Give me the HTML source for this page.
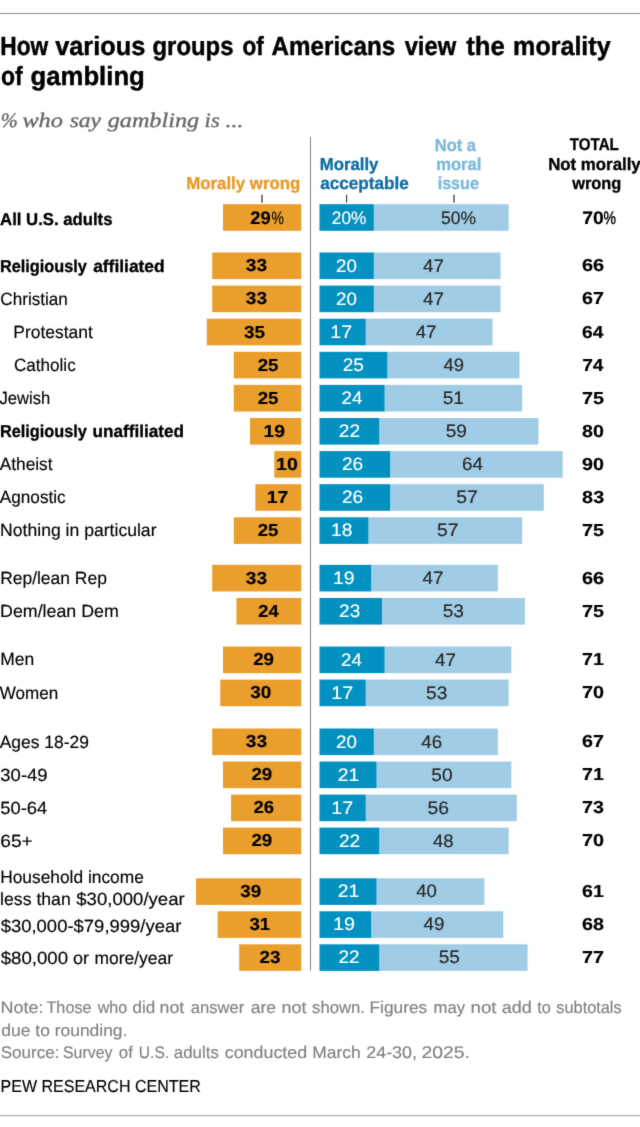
<!DOCTYPE html>
<html lang="en"><head><meta charset="utf-8"><title>How various groups of Americans view the morality of gambling</title>
<style>
html,body{margin:0;padding:0;background:#fff}
body{width:640px;height:1127px;position:relative;overflow:hidden;font-family:'Liberation Sans',sans-serif;text-rendering:geometricPrecision}
.soft{filter:url(#soft)}
svg{position:absolute;left:0;top:0}
.t{position:absolute;left:0;white-space:nowrap;line-height:0;transform-origin:0 0;margin:0;font-weight:400}
</style></head><body class="soft">
<svg width="0" height="0" style="position:absolute" aria-hidden="true"><filter id="soft" x="0" y="0" width="100%" height="100%" color-interpolation-filters="sRGB"><feConvolveMatrix order="3" kernelMatrix="0.01103 0.08285 0.01103 0.08285 0.62252 0.08285 0.01103 0.08285 0.01103" divisor="1" edgeMode="duplicate" preserveAlpha="false"/></filter></svg>
<svg width="640" height="1127" viewBox="0 0 640 1127">
<rect x="0" y="13" width="640" height="1" fill="#8e8e8e"/>
<rect x="0" y="1114.87" width="640" height="1.45" fill="#b3b3b3"/>
<rect x="310" y="137" width="1" height="833.6" fill="#848484"/>
<rect x="261" y="194.8" width="2" height="7.8" fill="#7e7e7e"/>
<rect x="346.15" y="194.8" width="1" height="7.8" fill="#222"/>
<rect x="453" y="194.8" width="2" height="7.8" fill="#7e7e7e"/>
<rect x="223.00" y="204.20" width="78.30" height="26.6" fill="#EA9E2C"/>
<rect x="373.85" y="204.20" width="134.80" height="26.6" fill="#A0CCE6"/>
<rect x="319.50" y="204.20" width="54.35" height="26.6" fill="#0291C0"/>
<rect x="212.20" y="252.50" width="89.10" height="26.6" fill="#EA9E2C"/>
<rect x="373.85" y="252.50" width="126.70" height="26.6" fill="#A0CCE6"/>
<rect x="319.50" y="252.50" width="54.35" height="26.6" fill="#0291C0"/>
<rect x="212.20" y="285.60" width="89.10" height="26.6" fill="#EA9E2C"/>
<rect x="373.85" y="285.60" width="126.70" height="26.6" fill="#A0CCE6"/>
<rect x="319.50" y="285.60" width="54.35" height="26.6" fill="#0291C0"/>
<rect x="206.80" y="318.70" width="94.50" height="26.6" fill="#EA9E2C"/>
<rect x="365.75" y="318.70" width="126.70" height="26.6" fill="#A0CCE6"/>
<rect x="319.50" y="318.70" width="46.25" height="26.6" fill="#0291C0"/>
<rect x="233.80" y="351.80" width="67.50" height="26.6" fill="#EA9E2C"/>
<rect x="387.35" y="351.80" width="132.10" height="26.6" fill="#A0CCE6"/>
<rect x="319.50" y="351.80" width="67.85" height="26.6" fill="#0291C0"/>
<rect x="233.80" y="384.90" width="67.50" height="26.6" fill="#EA9E2C"/>
<rect x="384.65" y="384.90" width="137.50" height="26.6" fill="#A0CCE6"/>
<rect x="319.50" y="384.90" width="65.15" height="26.6" fill="#0291C0"/>
<rect x="250.00" y="418.00" width="51.30" height="26.6" fill="#EA9E2C"/>
<rect x="379.25" y="418.00" width="159.10" height="26.6" fill="#A0CCE6"/>
<rect x="319.50" y="418.00" width="59.75" height="26.6" fill="#0291C0"/>
<rect x="274.30" y="451.10" width="27.00" height="26.6" fill="#EA9E2C"/>
<rect x="390.05" y="451.10" width="172.60" height="26.6" fill="#A0CCE6"/>
<rect x="319.50" y="451.10" width="70.55" height="26.6" fill="#0291C0"/>
<rect x="255.40" y="484.20" width="45.90" height="26.6" fill="#EA9E2C"/>
<rect x="390.05" y="484.20" width="153.70" height="26.6" fill="#A0CCE6"/>
<rect x="319.50" y="484.20" width="70.55" height="26.6" fill="#0291C0"/>
<rect x="233.80" y="517.30" width="67.50" height="26.6" fill="#EA9E2C"/>
<rect x="368.45" y="517.30" width="153.70" height="26.6" fill="#A0CCE6"/>
<rect x="319.50" y="517.30" width="48.95" height="26.6" fill="#0291C0"/>
<rect x="212.20" y="564.85" width="89.10" height="26.6" fill="#EA9E2C"/>
<rect x="371.15" y="564.85" width="126.70" height="26.6" fill="#A0CCE6"/>
<rect x="319.50" y="564.85" width="51.65" height="26.6" fill="#0291C0"/>
<rect x="236.50" y="597.95" width="64.80" height="26.6" fill="#EA9E2C"/>
<rect x="381.95" y="597.95" width="142.90" height="26.6" fill="#A0CCE6"/>
<rect x="319.50" y="597.95" width="62.45" height="26.6" fill="#0291C0"/>
<rect x="223.00" y="646.55" width="78.30" height="26.6" fill="#EA9E2C"/>
<rect x="384.65" y="646.55" width="126.70" height="26.6" fill="#A0CCE6"/>
<rect x="319.50" y="646.55" width="65.15" height="26.6" fill="#0291C0"/>
<rect x="220.30" y="679.60" width="81.00" height="26.6" fill="#EA9E2C"/>
<rect x="365.75" y="679.60" width="142.90" height="26.6" fill="#A0CCE6"/>
<rect x="319.50" y="679.60" width="46.25" height="26.6" fill="#0291C0"/>
<rect x="212.20" y="728.50" width="89.10" height="26.6" fill="#EA9E2C"/>
<rect x="373.85" y="728.50" width="124.00" height="26.6" fill="#A0CCE6"/>
<rect x="319.50" y="728.50" width="54.35" height="26.6" fill="#0291C0"/>
<rect x="223.00" y="761.55" width="78.30" height="26.6" fill="#EA9E2C"/>
<rect x="376.55" y="761.55" width="134.80" height="26.6" fill="#A0CCE6"/>
<rect x="319.50" y="761.55" width="57.05" height="26.6" fill="#0291C0"/>
<rect x="231.10" y="794.60" width="70.20" height="26.6" fill="#EA9E2C"/>
<rect x="365.75" y="794.60" width="151.00" height="26.6" fill="#A0CCE6"/>
<rect x="319.50" y="794.60" width="46.25" height="26.6" fill="#0291C0"/>
<rect x="223.00" y="827.60" width="78.30" height="26.6" fill="#EA9E2C"/>
<rect x="379.25" y="827.60" width="129.40" height="26.6" fill="#A0CCE6"/>
<rect x="319.50" y="827.60" width="59.75" height="26.6" fill="#0291C0"/>
<rect x="196.00" y="878.30" width="105.30" height="26.6" fill="#EA9E2C"/>
<rect x="376.55" y="878.30" width="107.80" height="26.6" fill="#A0CCE6"/>
<rect x="319.50" y="878.30" width="57.05" height="26.6" fill="#0291C0"/>
<rect x="217.60" y="911.30" width="83.70" height="26.6" fill="#EA9E2C"/>
<rect x="371.15" y="911.30" width="132.10" height="26.6" fill="#A0CCE6"/>
<rect x="319.50" y="911.30" width="51.65" height="26.6" fill="#0291C0"/>
<rect x="239.20" y="944.30" width="62.10" height="26.6" fill="#EA9E2C"/>
<rect x="379.25" y="944.30" width="148.30" height="26.6" fill="#A0CCE6"/>
<rect x="319.50" y="944.30" width="59.75" height="26.6" fill="#0291C0"/>
</svg>
<span class="t" style="top:45.50px;font-size:26.3px;transform:translateX(0.36px) scaleX(0.8631);font-weight:700;-webkit-text-stroke:0.45px currentColor">How</span>
<span class="t" style="top:45.50px;font-size:26.3px;transform:translateX(55.16px) scaleX(0.9643);font-weight:700;-webkit-text-stroke:0.45px currentColor">various</span>
<span class="t" style="top:45.50px;font-size:26.3px;transform:translateX(152.50px) scaleX(0.9080);font-weight:700;-webkit-text-stroke:0.45px currentColor">groups</span>
<span class="t" style="top:45.50px;font-size:26.3px;transform:translateX(242.54px) scaleX(0.8589);font-weight:700;-webkit-text-stroke:0.45px currentColor">of</span>
<span class="t" style="top:45.50px;font-size:26.3px;transform:translateX(271.60px) scaleX(0.9192);font-weight:700;-webkit-text-stroke:0.45px currentColor">Americans</span>
<span class="t" style="top:45.50px;font-size:26.3px;transform:translateX(404.64px) scaleX(0.9045);font-weight:700;-webkit-text-stroke:0.45px currentColor">view</span>
<span class="t" style="top:45.50px;font-size:26.3px;transform:translateX(466.22px) scaleX(0.9781);font-weight:700;-webkit-text-stroke:0.45px currentColor">the</span>
<span class="t" style="top:45.50px;font-size:26.3px;transform:translateX(513.12px) scaleX(0.9526);font-weight:700;-webkit-text-stroke:0.45px currentColor">morality</span>
<span class="t" style="top:75.50px;font-size:26.3px;transform:translateX(0.97px) scaleX(0.8738);font-weight:700;-webkit-text-stroke:0.45px currentColor">of</span>
<span class="t" style="top:75.50px;font-size:26.3px;transform:translateX(30.58px) scaleX(0.9773);font-weight:700;-webkit-text-stroke:0.45px currentColor">gambling</span>
<span class="t" style="top:120.50px;font-size:20.5px;transform:translateX(0.81px) scaleX(0.9943);font-style:italic;font-family:'Liberation Serif', serif;color:#686868;-webkit-text-stroke:0.35px currentColor">%</span>
<span class="t" style="top:120.50px;font-size:20.5px;transform:translateX(22.39px) scaleX(1.1847);font-style:italic;font-family:'Liberation Serif', serif;color:#686868;-webkit-text-stroke:0.35px currentColor">who</span>
<span class="t" style="top:120.50px;font-size:20.5px;transform:translateX(69.66px) scaleX(1.1486);font-style:italic;font-family:'Liberation Serif', serif;color:#686868;-webkit-text-stroke:0.35px currentColor">say</span>
<span class="t" style="top:120.50px;font-size:20.5px;transform:translateX(107.70px) scaleX(1.1798);font-style:italic;font-family:'Liberation Serif', serif;color:#686868;-webkit-text-stroke:0.35px currentColor">gambling</span>
<span class="t" style="top:120.50px;font-size:20.5px;transform:translateX(204.62px) scaleX(1.1057);font-style:italic;font-family:'Liberation Serif', serif;color:#686868;-webkit-text-stroke:0.35px currentColor">is</span>
<span class="t" style="top:120.50px;font-size:20.5px;transform:translateX(225.52px) scaleX(1.1566);font-style:italic;font-family:'Liberation Serif', serif;color:#686868;-webkit-text-stroke:0.35px currentColor">...</span>
<span class="t" style="top:182.50px;font-size:17.3px;transform:translateX(186.18px) scaleX(0.9745);font-weight:700;color:#E99B27;-webkit-text-stroke:0.32px currentColor">Morally wrong</span>
<span class="t" style="top:163.50px;font-size:17.3px;transform:translateX(319.71px) scaleX(0.9701);font-weight:700;color:#0F6EA5;-webkit-text-stroke:0.32px currentColor">Morally</span>
<span class="t" style="top:182.50px;font-size:17.3px;transform:translateX(320.17px) scaleX(0.9917);font-weight:700;color:#0F6EA5;-webkit-text-stroke:0.32px currentColor">acceptable</span>
<span class="t" style="top:144.50px;font-size:17.3px;transform:translateX(434.77px) scaleX(0.9545);font-weight:700;color:#7DB9DC;-webkit-text-stroke:0.32px currentColor">Not a</span>
<span class="t" style="top:163.50px;font-size:17.3px;transform:translateX(436.16px) scaleX(0.9614);font-weight:700;color:#7DB9DC;-webkit-text-stroke:0.32px currentColor">moral</span>
<span class="t" style="top:182.50px;font-size:17.3px;transform:translateX(437.68px) scaleX(0.9315);font-weight:700;color:#7DB9DC;-webkit-text-stroke:0.32px currentColor">issue</span>
<span class="t" style="top:145.00px;font-size:17px;transform:translateX(569.74px) scaleX(0.8915);font-weight:700;-webkit-text-stroke:0.32px currentColor">TOTAL</span>
<span class="t" style="top:163.50px;font-size:17.3px;transform:translateX(548.19px) scaleX(0.9729);font-weight:700;-webkit-text-stroke:0.32px currentColor">Not morally</span>
<span class="t" style="top:182.50px;font-size:17.3px;transform:translateX(572.17px) scaleX(0.9468);font-weight:700;-webkit-text-stroke:0.32px currentColor">wrong</span>
<span class="t" style="top:218.50px;font-size:17.2px;transform:translateX(0.11px) scaleX(0.9724);font-weight:700;-webkit-text-stroke:0.32px currentColor">All U.S. adults</span>
<span class="t" style="top:217.50px;font-size:18px;transform:translateX(250.18px) scaleX(1.0233);font-weight:700;-webkit-text-stroke:0.15px currentColor">29</span>
<span class="t" style="top:217.50px;font-size:18px;transform:translateX(271.51px) scaleX(0.7722);-webkit-text-stroke:0.14px currentColor">%</span>
<span class="t" style="top:217.50px;font-size:18px;transform:translateX(331.77px) scaleX(0.9601);color:#fff;-webkit-text-stroke:0.14px currentColor">20%</span>
<span class="t" style="top:217.50px;font-size:18px;transform:translateX(441.04px) scaleX(0.9674);color:#262626;-webkit-text-stroke:0.14px currentColor">50%</span>
<span class="t" style="top:217.50px;font-size:18px;transform:translateX(582.30px) scaleX(1.0777);font-weight:700;-webkit-text-stroke:0.15px currentColor">70</span>
<span class="t" style="top:217.50px;font-size:18px;transform:translateX(603.58px) scaleX(0.7750);-webkit-text-stroke:0.45px currentColor">%</span>
<span class="t" style="top:265.50px;font-size:17.2px;transform:translateX(-0.11px) scaleX(0.9477);font-weight:700;-webkit-text-stroke:0.32px currentColor">Religiously</span>
<span class="t" style="top:265.50px;font-size:17.2px;transform:translateX(93.13px) scaleX(1.0123);font-weight:700;-webkit-text-stroke:0.32px currentColor">affiliated</span>
<span class="t" style="top:264.50px;font-size:17.3px;transform:translateX(245.83px) scaleX(1.1058);font-weight:700;-webkit-text-stroke:0.15px currentColor">33</span>
<span class="t" style="top:265.50px;font-size:18px;transform:translateX(335.94px) scaleX(1.0434);color:#fff;-webkit-text-stroke:0.14px currentColor">20</span>
<span class="t" style="top:265.50px;font-size:18px;transform:translateX(423.03px) scaleX(1.0400);color:#262626;-webkit-text-stroke:0.14px currentColor">47</span>
<span class="t" style="top:264.50px;font-size:17.3px;transform:translateX(581.97px) scaleX(1.1565);font-weight:700;-webkit-text-stroke:0.15px currentColor">66</span>
<span class="t" style="top:298.50px;font-size:17.7px;transform:translateX(0.31px) scaleX(0.9678);-webkit-text-stroke:0.14px currentColor">Christian</span>
<span class="t" style="top:297.50px;font-size:17.3px;transform:translateX(245.83px) scaleX(1.1058);font-weight:700;-webkit-text-stroke:0.15px currentColor">33</span>
<span class="t" style="top:298.50px;font-size:18px;transform:translateX(335.94px) scaleX(1.0434);color:#fff;-webkit-text-stroke:0.14px currentColor">20</span>
<span class="t" style="top:298.50px;font-size:18px;transform:translateX(423.03px) scaleX(1.0400);color:#262626;-webkit-text-stroke:0.14px currentColor">47</span>
<span class="t" style="top:297.50px;font-size:17.3px;transform:translateX(581.97px) scaleX(1.1392);font-weight:700;-webkit-text-stroke:0.15px currentColor">67</span>
<span class="t" style="top:331.50px;font-size:17.7px;transform:translateX(13.31px) scaleX(0.9869);-webkit-text-stroke:0.14px currentColor">Protestant</span>
<span class="t" style="top:331.50px;font-size:17.3px;transform:translateX(243.99px) scaleX(1.0956);font-weight:700;-webkit-text-stroke:0.15px currentColor">35</span>
<span class="t" style="top:331.50px;font-size:18px;transform:translateX(330.32px) scaleX(1.0912);color:#fff;-webkit-text-stroke:0.14px currentColor">17</span>
<span class="t" style="top:331.50px;font-size:18px;transform:translateX(415.69px) scaleX(1.0400);color:#262626;-webkit-text-stroke:0.14px currentColor">47</span>
<span class="t" style="top:331.50px;font-size:17.3px;transform:translateX(582.09px) scaleX(1.1121);font-weight:700;-webkit-text-stroke:0.15px currentColor">64</span>
<span class="t" style="top:364.50px;font-size:17.7px;transform:translateX(14.00px) scaleX(0.9656);-webkit-text-stroke:0.14px currentColor">Catholic</span>
<span class="t" style="top:364.50px;font-size:17.3px;transform:translateX(257.66px) scaleX(1.0841);font-weight:700;-webkit-text-stroke:0.15px currentColor">25</span>
<span class="t" style="top:364.50px;font-size:18px;transform:translateX(342.76px) scaleX(1.0590);color:#fff;-webkit-text-stroke:0.14px currentColor">25</span>
<span class="t" style="top:364.50px;font-size:18px;transform:translateX(443.38px) scaleX(1.0249);color:#262626;-webkit-text-stroke:0.14px currentColor">49</span>
<span class="t" style="top:364.50px;font-size:17.3px;transform:translateX(582.15px) scaleX(1.1098);font-weight:700;-webkit-text-stroke:0.15px currentColor">74</span>
<span class="t" style="top:397.50px;font-size:17.7px;transform:translateX(-0.49px) scaleX(0.9371);-webkit-text-stroke:0.14px currentColor">Jewish</span>
<span class="t" style="top:397.50px;font-size:17.3px;transform:translateX(257.66px) scaleX(1.0841);font-weight:700;-webkit-text-stroke:0.15px currentColor">25</span>
<span class="t" style="top:397.50px;font-size:18px;transform:translateX(341.56px) scaleX(1.0373);color:#fff;-webkit-text-stroke:0.14px currentColor">24</span>
<span class="t" style="top:397.50px;font-size:18px;transform:translateX(442.67px) scaleX(1.0622);color:#262626;-webkit-text-stroke:0.14px currentColor">51</span>
<span class="t" style="top:397.50px;font-size:17.3px;transform:translateX(582.06px) scaleX(1.1435);font-weight:700;-webkit-text-stroke:0.15px currentColor">75</span>
<span class="t" style="top:430.50px;font-size:17.2px;transform:translateX(-0.11px) scaleX(0.9477);font-weight:700;-webkit-text-stroke:0.32px currentColor">Religiously</span>
<span class="t" style="top:430.50px;font-size:17.2px;transform:translateX(92.61px) scaleX(0.9973);font-weight:700;-webkit-text-stroke:0.32px currentColor">unaffiliated</span>
<span class="t" style="top:430.50px;font-size:17.3px;transform:translateX(263.51px) scaleX(1.1217);font-weight:700;-webkit-text-stroke:0.15px currentColor">19</span>
<span class="t" style="top:430.50px;font-size:18px;transform:translateX(338.85px) scaleX(1.0590);color:#fff;-webkit-text-stroke:0.14px currentColor">22</span>
<span class="t" style="top:430.50px;font-size:18px;transform:translateX(445.67px) scaleX(1.0630);color:#262626;-webkit-text-stroke:0.14px currentColor">59</span>
<span class="t" style="top:430.50px;font-size:17.3px;transform:translateX(582.06px) scaleX(1.1381);font-weight:700;-webkit-text-stroke:0.15px currentColor">80</span>
<span class="t" style="top:463.50px;font-size:17.7px;transform:translateX(-0.31px) scaleX(0.9776);-webkit-text-stroke:0.14px currentColor">Atheist</span>
<span class="t" style="top:463.50px;font-size:17.3px;transform:translateX(276.09px) scaleX(1.1291);font-weight:700;-webkit-text-stroke:0.15px currentColor">10</span>
<span class="t" style="top:463.50px;font-size:18px;transform:translateX(341.90px) scaleX(1.0620);color:#fff;-webkit-text-stroke:0.14px currentColor">26</span>
<span class="t" style="top:463.50px;font-size:18px;transform:translateX(462.00px) scaleX(1.0451);color:#262626;-webkit-text-stroke:0.14px currentColor">64</span>
<span class="t" style="top:463.50px;font-size:17.3px;transform:translateX(582.02px) scaleX(1.1423);font-weight:700;-webkit-text-stroke:0.15px currentColor">90</span>
<span class="t" style="top:496.50px;font-size:17.7px;transform:translateX(-0.30px) scaleX(0.9729);-webkit-text-stroke:0.14px currentColor">Agnostic</span>
<span class="t" style="top:496.50px;font-size:17.3px;transform:translateX(266.80px) scaleX(1.1247);font-weight:700;-webkit-text-stroke:0.15px currentColor">17</span>
<span class="t" style="top:496.50px;font-size:18px;transform:translateX(341.90px) scaleX(1.0620);color:#fff;-webkit-text-stroke:0.14px currentColor">26</span>
<span class="t" style="top:496.50px;font-size:18px;transform:translateX(456.32px) scaleX(1.0702);color:#262626;-webkit-text-stroke:0.14px currentColor">57</span>
<span class="t" style="top:496.50px;font-size:17.3px;transform:translateX(582.12px) scaleX(1.1456);font-weight:700;-webkit-text-stroke:0.15px currentColor">83</span>
<span class="t" style="top:529.50px;font-size:17.7px;transform:translateX(0.11px) scaleX(0.9941);-webkit-text-stroke:0.14px currentColor">Nothing in particular</span>
<span class="t" style="top:529.50px;font-size:17.3px;transform:translateX(257.66px) scaleX(1.0841);font-weight:700;-webkit-text-stroke:0.15px currentColor">25</span>
<span class="t" style="top:529.50px;font-size:18px;transform:translateX(330.96px) scaleX(1.0726);color:#fff;-webkit-text-stroke:0.14px currentColor">18</span>
<span class="t" style="top:529.50px;font-size:18px;transform:translateX(437.12px) scaleX(1.0685);color:#262626;-webkit-text-stroke:0.14px currentColor">57</span>
<span class="t" style="top:529.50px;font-size:17.3px;transform:translateX(582.06px) scaleX(1.1435);font-weight:700;-webkit-text-stroke:0.15px currentColor">75</span>
<span class="t" style="top:577.50px;font-size:17.7px;transform:translateX(0.14px) scaleX(0.9864);-webkit-text-stroke:0.14px currentColor">Rep/lean Rep</span>
<span class="t" style="top:577.50px;font-size:17.3px;transform:translateX(245.83px) scaleX(1.1058);font-weight:700;-webkit-text-stroke:0.15px currentColor">33</span>
<span class="t" style="top:577.50px;font-size:18px;transform:translateX(332.94px) scaleX(1.0900);color:#fff;-webkit-text-stroke:0.14px currentColor">19</span>
<span class="t" style="top:577.50px;font-size:18px;transform:translateX(422.42px) scaleX(1.0464);color:#262626;-webkit-text-stroke:0.14px currentColor">47</span>
<span class="t" style="top:577.50px;font-size:17.3px;transform:translateX(581.97px) scaleX(1.1565);font-weight:700;-webkit-text-stroke:0.15px currentColor">66</span>
<span class="t" style="top:610.50px;font-size:17.7px;transform:translateX(0.05px) scaleX(1.0064);-webkit-text-stroke:0.14px currentColor">Dem/lean Dem</span>
<span class="t" style="top:610.50px;font-size:17.3px;transform:translateX(258.36px) scaleX(1.0616);font-weight:700;-webkit-text-stroke:0.15px currentColor">24</span>
<span class="t" style="top:610.50px;font-size:18px;transform:translateX(339.04px) scaleX(1.0582);color:#fff;-webkit-text-stroke:0.14px currentColor">23</span>
<span class="t" style="top:610.50px;font-size:18px;transform:translateX(442.65px) scaleX(1.0605);color:#262626;-webkit-text-stroke:0.14px currentColor">53</span>
<span class="t" style="top:610.50px;font-size:17.3px;transform:translateX(582.06px) scaleX(1.1435);font-weight:700;-webkit-text-stroke:0.15px currentColor">75</span>
<span class="t" style="top:658.50px;font-size:17.7px;transform:translateX(0.13px) scaleX(0.9877);-webkit-text-stroke:0.14px currentColor">Men</span>
<span class="t" style="top:658.50px;font-size:17.3px;transform:translateX(253.14px) scaleX(1.0843);font-weight:700;-webkit-text-stroke:0.15px currentColor">29</span>
<span class="t" style="top:659.50px;font-size:18px;transform:translateX(340.98px) scaleX(1.0417);color:#fff;-webkit-text-stroke:0.14px currentColor">24</span>
<span class="t" style="top:659.50px;font-size:18px;transform:translateX(435.03px) scaleX(1.0400);color:#262626;-webkit-text-stroke:0.14px currentColor">47</span>
<span class="t" style="top:658.50px;font-size:17.3px;transform:translateX(582.09px) scaleX(1.1314);font-weight:700;-webkit-text-stroke:0.15px currentColor">71</span>
<span class="t" style="top:692.50px;font-size:17.7px;transform:translateX(-0.30px) scaleX(0.9653);-webkit-text-stroke:0.14px currentColor">Women</span>
<span class="t" style="top:691.50px;font-size:17.3px;transform:translateX(250.23px) scaleX(1.0940);font-weight:700;-webkit-text-stroke:0.15px currentColor">30</span>
<span class="t" style="top:692.50px;font-size:18px;transform:translateX(331.32px) scaleX(1.0912);color:#fff;-webkit-text-stroke:0.14px currentColor">17</span>
<span class="t" style="top:692.50px;font-size:18px;transform:translateX(425.99px) scaleX(1.0631);color:#262626;-webkit-text-stroke:0.14px currentColor">53</span>
<span class="t" style="top:691.50px;font-size:17.3px;transform:translateX(582.03px) scaleX(1.1473);font-weight:700;-webkit-text-stroke:0.15px currentColor">70</span>
<span class="t" style="top:741.50px;font-size:17.7px;transform:translateX(-0.30px) scaleX(0.9856);-webkit-text-stroke:0.14px currentColor">Ages 18-29</span>
<span class="t" style="top:740.50px;font-size:17.3px;transform:translateX(245.83px) scaleX(1.1058);font-weight:700;-webkit-text-stroke:0.15px currentColor">33</span>
<span class="t" style="top:741.50px;font-size:18px;transform:translateX(335.94px) scaleX(1.0434);color:#fff;-webkit-text-stroke:0.14px currentColor">20</span>
<span class="t" style="top:741.50px;font-size:18px;transform:translateX(421.37px) scaleX(1.0364);color:#262626;-webkit-text-stroke:0.14px currentColor">46</span>
<span class="t" style="top:740.50px;font-size:17.3px;transform:translateX(581.97px) scaleX(1.1392);font-weight:700;-webkit-text-stroke:0.15px currentColor">67</span>
<span class="t" style="top:774.50px;font-size:17.7px;transform:translateX(0.34px) scaleX(1.0441);-webkit-text-stroke:0.14px currentColor">30-49</span>
<span class="t" style="top:773.50px;font-size:17.3px;transform:translateX(251.38px) scaleX(1.0832);font-weight:700;-webkit-text-stroke:0.15px currentColor">29</span>
<span class="t" style="top:774.50px;font-size:18px;transform:translateX(337.80px) scaleX(1.0729);color:#fff;-webkit-text-stroke:0.14px currentColor">21</span>
<span class="t" style="top:774.50px;font-size:18px;transform:translateX(431.36px) scaleX(1.0604);color:#262626;-webkit-text-stroke:0.14px currentColor">50</span>
<span class="t" style="top:773.50px;font-size:17.3px;transform:translateX(582.09px) scaleX(1.1314);font-weight:700;-webkit-text-stroke:0.15px currentColor">71</span>
<span class="t" style="top:807.50px;font-size:17.7px;transform:translateX(0.25px) scaleX(1.0382);-webkit-text-stroke:0.14px currentColor">50-64</span>
<span class="t" style="top:806.50px;font-size:17.3px;transform:translateX(253.48px) scaleX(1.0715);font-weight:700;-webkit-text-stroke:0.15px currentColor">26</span>
<span class="t" style="top:807.50px;font-size:18px;transform:translateX(331.32px) scaleX(1.0912);color:#fff;-webkit-text-stroke:0.14px currentColor">17</span>
<span class="t" style="top:807.50px;font-size:18px;transform:translateX(427.40px) scaleX(1.0735);color:#262626;-webkit-text-stroke:0.14px currentColor">56</span>
<span class="t" style="top:806.50px;font-size:17.3px;transform:translateX(582.04px) scaleX(1.1386);font-weight:700;-webkit-text-stroke:0.15px currentColor">73</span>
<span class="t" style="top:840.50px;font-size:17.7px;transform:translateX(0.23px) scaleX(1.0833);-webkit-text-stroke:0.14px currentColor">65+</span>
<span class="t" style="top:839.50px;font-size:17.3px;transform:translateX(251.38px) scaleX(1.0832);font-weight:700;-webkit-text-stroke:0.15px currentColor">29</span>
<span class="t" style="top:840.50px;font-size:18px;transform:translateX(338.94px) scaleX(1.0643);color:#fff;-webkit-text-stroke:0.14px currentColor">22</span>
<span class="t" style="top:840.50px;font-size:18px;transform:translateX(432.90px) scaleX(1.0276);color:#262626;-webkit-text-stroke:0.14px currentColor">48</span>
<span class="t" style="top:839.50px;font-size:17.3px;transform:translateX(582.03px) scaleX(1.1473);font-weight:700;-webkit-text-stroke:0.15px currentColor">70</span>
<span class="t" style="top:876.50px;font-size:17.7px;transform:translateX(0.17px) scaleX(0.9806);-webkit-text-stroke:0.14px currentColor">Household income</span>
<span class="t" style="top:898.50px;font-size:17.7px;transform:translateX(0.11px) scaleX(0.9974);-webkit-text-stroke:0.14px currentColor">less than</span>
<span class="t" style="top:898.50px;font-size:17.7px;transform:translateX(76.27px) scaleX(1.0496);-webkit-text-stroke:0.14px currentColor">$30,000/year</span>
<span class="t" style="top:890.50px;font-size:17.3px;transform:translateX(240.20px) scaleX(1.0888);font-weight:700;-webkit-text-stroke:0.15px currentColor">39</span>
<span class="t" style="top:890.50px;font-size:18px;transform:translateX(337.80px) scaleX(1.0729);color:#fff;-webkit-text-stroke:0.14px currentColor">21</span>
<span class="t" style="top:890.50px;font-size:18px;transform:translateX(416.28px) scaleX(1.0300);color:#262626;-webkit-text-stroke:0.14px currentColor">40</span>
<span class="t" style="top:890.50px;font-size:17.3px;transform:translateX(582.02px) scaleX(1.1325);font-weight:700;-webkit-text-stroke:0.15px currentColor">61</span>
<span class="t" style="top:925.50px;font-size:17.7px;transform:translateX(0.63px) scaleX(1.0444);-webkit-text-stroke:0.14px currentColor">$30,000-$79,999/year</span>
<span class="t" style="top:923.50px;font-size:17.3px;transform:translateX(249.47px) scaleX(1.0819);font-weight:700;-webkit-text-stroke:0.15px currentColor">31</span>
<span class="t" style="top:923.50px;font-size:18px;transform:translateX(333.04px) scaleX(1.1045);color:#fff;-webkit-text-stroke:0.14px currentColor">19</span>
<span class="t" style="top:923.50px;font-size:18px;transform:translateX(423.42px) scaleX(1.0458);color:#262626;-webkit-text-stroke:0.14px currentColor">49</span>
<span class="t" style="top:923.50px;font-size:17.3px;transform:translateX(581.99px) scaleX(1.1428);font-weight:700;-webkit-text-stroke:0.15px currentColor">68</span>
<span class="t" style="top:957.50px;font-size:17.7px;transform:translateX(0.63px) scaleX(1.0553);-webkit-text-stroke:0.14px currentColor">$80,000</span>
<span class="t" style="top:957.50px;font-size:17.7px;transform:translateX(73.02px) scaleX(1.0239);-webkit-text-stroke:0.14px currentColor">or</span>
<span class="t" style="top:957.50px;font-size:17.7px;transform:translateX(94.41px) scaleX(0.9872);-webkit-text-stroke:0.14px currentColor">more/year</span>
<span class="t" style="top:956.50px;font-size:17.3px;transform:translateX(259.51px) scaleX(1.0893);font-weight:700;-webkit-text-stroke:0.15px currentColor">23</span>
<span class="t" style="top:956.50px;font-size:18px;transform:translateX(338.45px) scaleX(1.0529);color:#fff;-webkit-text-stroke:0.14px currentColor">22</span>
<span class="t" style="top:956.50px;font-size:18px;transform:translateX(438.65px) scaleX(1.0599);color:#262626;-webkit-text-stroke:0.14px currentColor">55</span>
<span class="t" style="top:956.50px;font-size:17.3px;transform:translateX(582.03px) scaleX(1.1419);font-weight:700;-webkit-text-stroke:0.15px currentColor">77</span>
<span class="t" style="top:1008.00px;font-size:16.75px;transform:translateX(0.51px) scaleX(1.0723);color:#7f8183;-webkit-text-stroke:0.14px currentColor">Note:</span>
<span class="t" style="top:1008.00px;font-size:16.75px;transform:translateX(46.45px) scaleX(0.9696);color:#7f8183;-webkit-text-stroke:0.14px currentColor">Those</span>
<span class="t" style="top:1008.00px;font-size:16.75px;transform:translateX(97.64px) scaleX(0.9605);color:#7f8183;-webkit-text-stroke:0.14px currentColor">who</span>
<span class="t" style="top:1008.00px;font-size:16.75px;transform:translateX(132.62px) scaleX(1.0162);color:#7f8183;-webkit-text-stroke:0.14px currentColor">did</span>
<span class="t" style="top:1008.00px;font-size:16.75px;transform:translateX(159.57px) scaleX(1.0629);color:#7f8183;-webkit-text-stroke:0.14px currentColor">not</span>
<span class="t" style="top:1008.00px;font-size:16.75px;transform:translateX(190.82px) scaleX(0.9922);color:#7f8183;-webkit-text-stroke:0.14px currentColor">answer</span>
<span class="t" style="top:1008.00px;font-size:16.75px;transform:translateX(250.65px) scaleX(1.0462);color:#7f8183;-webkit-text-stroke:0.14px currentColor">are</span>
<span class="t" style="top:1008.00px;font-size:16.75px;transform:translateX(281.49px) scaleX(1.0709);color:#7f8183;-webkit-text-stroke:0.14px currentColor">not</span>
<span class="t" style="top:1008.00px;font-size:16.75px;transform:translateX(312.03px) scaleX(0.9983);color:#7f8183;-webkit-text-stroke:0.14px currentColor">shown.</span>
<span class="t" style="top:1008.00px;font-size:16.75px;transform:translateX(369.52px) scaleX(1.0341);color:#7f8183;-webkit-text-stroke:0.14px currentColor">Figures</span>
<span class="t" style="top:1008.00px;font-size:16.75px;transform:translateX(433.58px) scaleX(0.9962);color:#7f8183;-webkit-text-stroke:0.14px currentColor">may</span>
<span class="t" style="top:1008.00px;font-size:16.75px;transform:translateX(470.50px) scaleX(1.1150);color:#7f8183;-webkit-text-stroke:0.14px currentColor">not</span>
<span class="t" style="top:1008.00px;font-size:16.75px;transform:translateX(501.64px) scaleX(1.0736);color:#7f8183;-webkit-text-stroke:0.14px currentColor">add</span>
<span class="t" style="top:1008.00px;font-size:16.75px;transform:translateX(537.19px) scaleX(0.9776);color:#7f8183;-webkit-text-stroke:0.14px currentColor">to</span>
<span class="t" style="top:1008.00px;font-size:16.75px;transform:translateX(556.33px) scaleX(0.9741);color:#7f8183;-webkit-text-stroke:0.14px currentColor">subtotals</span>
<span class="t" style="top:1031.00px;font-size:16.75px;transform:translateX(1.37px) scaleX(1.0410);color:#7f8183;-webkit-text-stroke:0.14px currentColor">due to rounding.</span>
<span class="t" style="top:1053.00px;font-size:16.75px;transform:translateX(0.78px) scaleX(1.0152);color:#7f8183;-webkit-text-stroke:0.14px currentColor">Source:</span>
<span class="t" style="top:1053.00px;font-size:16.75px;transform:translateX(62.90px) scaleX(0.9507);color:#7f8183;-webkit-text-stroke:0.14px currentColor">Survey</span>
<span class="t" style="top:1053.00px;font-size:16.75px;transform:translateX(118.86px) scaleX(1.0037);color:#7f8183;-webkit-text-stroke:0.14px currentColor">of</span>
<span class="t" style="top:1053.00px;font-size:16.75px;transform:translateX(138.67px) scaleX(0.9382);color:#7f8183;-webkit-text-stroke:0.14px currentColor">U.S.</span>
<span class="t" style="top:1053.00px;font-size:16.75px;transform:translateX(173.85px) scaleX(1.0070);color:#7f8183;-webkit-text-stroke:0.14px currentColor">adults</span>
<span class="t" style="top:1053.00px;font-size:16.75px;transform:translateX(224.73px) scaleX(1.0669);color:#7f8183;-webkit-text-stroke:0.14px currentColor">conducted</span>
<span class="t" style="top:1053.00px;font-size:16.75px;transform:translateX(312.19px) scaleX(1.0409);color:#7f8183;-webkit-text-stroke:0.14px currentColor">March</span>
<span class="t" style="top:1053.00px;font-size:16.75px;transform:translateX(366.25px) scaleX(1.0687);color:#7f8183;-webkit-text-stroke:0.14px currentColor">24-30,</span>
<span class="t" style="top:1053.00px;font-size:16.75px;transform:translateX(421.53px) scaleX(1.1563);color:#7f8183;-webkit-text-stroke:0.14px currentColor">2025.</span>
<span class="t" style="top:1085.50px;font-size:17.3px;transform:translateX(0.60px) scaleX(0.9262);-webkit-text-stroke:0.14px currentColor">PEW RESEARCH CENTER</span>
</body></html>
